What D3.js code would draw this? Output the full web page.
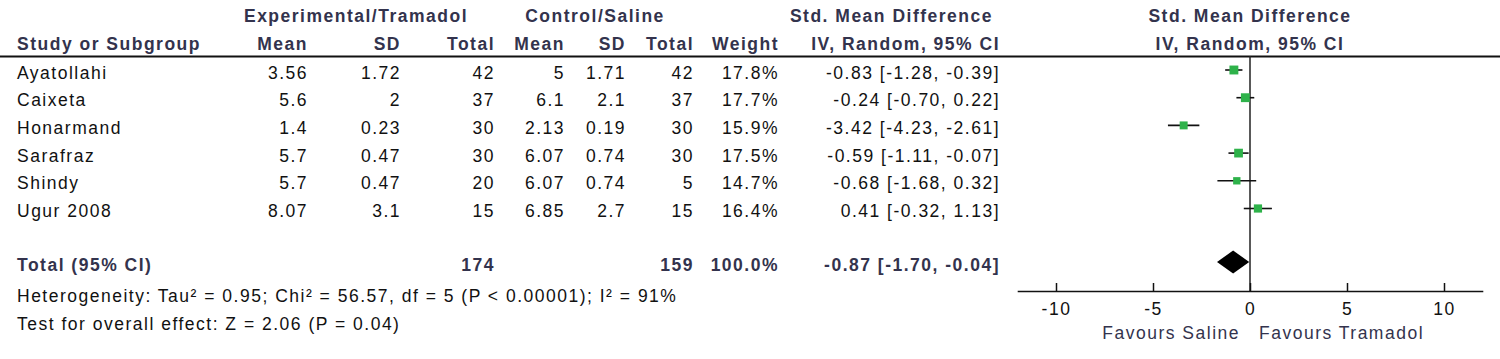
<!DOCTYPE html>
<html>
<head>
<meta charset="utf-8">
<script src="https://cdn.jsdelivr.net/npm/d3@7"></script>
<style>
  body { margin: 0; background: #fff; }
  svg text { font-family: "Liberation Sans", Arial, sans-serif; font-size: 17.5px; letter-spacing: 1.5px; }
  .hdr { font-weight: bold; fill: #33334d; }
  .tot { font-weight: bold; fill: #33334d; }
  .txt { fill: #111; }
</style>
</head>
<body>
<div id="chart"></div>
<script>
const studies = ["Ayatollahi", "Caixeta", "Honarmand", "Sarafraz", "Shindy", "Ugur 2008"];
const expMean = [3.56, 5.6, 1.4, 5.7, 5.7, 8.07];
const expSD = [1.72, 2, 0.23, 0.47, 0.47, 3.1];
const expTotal = [42, 37, 30, 30, 20, 15];
const ctrlMean = [5, 6.1, 2.13, 6.07, 6.07, 6.85];
const ctrlSD = [1.71, 2.1, 0.19, 0.74, 0.74, 2.7];
const ctrlTotal = [42, 37, 30, 30, 5, 15];
const weight = [17.8, 17.7, 15.9, 17.5, 14.7, 16.4];
const smd = [-0.83, -0.24, -3.42, -0.59, -0.68, 0.41];
const ciLow = [-1.28, -0.70, -4.23, -1.11, -1.68, -0.32];
const ciHigh = [-0.39, 0.22, -2.61, -0.07, 0.32, 1.13];

const totalExp = 174;
const totalCtrl = 159;
const totalWeight = 100.0;
const totalSmd = -0.87;
const totalLow = -1.70;
const totalHigh = -0.04;

const axisTicks = [-10, -5, 0, 5, 10];
const heterogeneity = "Heterogeneity: Tau\u00B2 = 0.95; Chi\u00B2 = 56.57, df = 5 (P < 0.00001); I\u00B2 = 91%";
const overall = "Test for overall effect: Z = 2.06 (P = 0.04)";

const width = 1500, height = 359;

const svg = d3.select("#chart").append("svg")
  .attr("width", width)
  .attr("height", height);

svg.append("rect").attr("width", width).attr("height", height).attr("fill", "#fff");

let f2 = v => v.toFixed(2);
let ciText = (m, l, h) => `${f2(m)} [${f2(l)}, ${f2(h)}]`;

// column right edges
const cols = {
  expMean: 308, expSD: 401, expTotal: 495,
  ctrlMean: 565, ctrlSD: 626, ctrlTotal: 694,
  weight: 779, ci: 1000
};

const rows = studies.map((s, i) => ({
  study: s,
  expMean: expMean[i], expSD: expSD[i], expTotal: expTotal[i],
  ctrlMean: ctrlMean[i], ctrlSD: ctrlSD[i], ctrlTotal: ctrlTotal[i],
  weight: weight[i], smd: smd[i], lo: ciLow[i], hi: ciHigh[i]
}));

// baseline of each study row
const y = d3.scalePoint()
  .domain(studies)
  .range([78.5, 217]);

// headers
const header = svg.append("g").attr("class", "hdr");
header.append("text").attr("x", 356).attr("y", 22).attr("text-anchor", "middle").text("Experimental/Tramadol");
header.append("text").attr("x", 595).attr("y", 22).attr("text-anchor", "middle").text("Control/Saline");
header.append("text").attr("x", 993).attr("y", 22).attr("text-anchor", "end").text("Std. Mean Difference");
header.append("text").attr("x", 1250).attr("y", 22).attr("text-anchor", "middle").text("Std. Mean Difference");

header.append("text").attr("x", 17).attr("y", 50).text("Study or Subgroup");
[["expMean", "Mean"], ["expSD", "SD"], ["expTotal", "Total"],
 ["ctrlMean", "Mean"], ["ctrlSD", "SD"], ["ctrlTotal", "Total"],
 ["weight", "Weight"], ["ci", "IV, Random, 95% CI"]].forEach(([k, t]) => {
  header.append("text").attr("x", cols[k]).attr("y", 50).attr("text-anchor", "end").text(t);
});
header.append("text").attr("x", 1250).attr("y", 50).attr("text-anchor", "middle").text("IV, Random, 95% CI");

svg.append("line")
  .attr("x1", 0).attr("x2", width)
  .attr("y1", 56.5).attr("y2", 56.5)
  .attr("stroke", "#111").attr("stroke-width", 2);

// study rows
const body = svg.append("g").attr("class", "txt");
const rowG = body.selectAll("g.row")
  .data(rows)
  .join("g")
  .attr("class", "row")
  .attr("transform", d => `translate(0, ${y(d.study)})`);

rowG.append("text").attr("x", 17).text(d => d.study);
["expMean", "expSD", "expTotal", "ctrlMean", "ctrlSD", "ctrlTotal"].forEach(k => {
  rowG.append("text").attr("x", cols[k]).attr("text-anchor", "end").text(d => String(d[k]));
});
rowG.append("text").attr("x", cols.weight).attr("text-anchor", "end").text(d => d.weight.toFixed(1) + "%");
rowG.append("text").attr("x", cols.ci).attr("text-anchor", "end").text(d => ciText(d.smd, d.lo, d.hi));

// total row
const totY = 270.5;
const tot = svg.append("g").attr("class", "tot");
tot.append("text").attr("x", 17).attr("y", totY).text("Total (95% CI)");
tot.append("text").attr("x", cols.expTotal).attr("y", totY).attr("text-anchor", "end").text(totalExp);
tot.append("text").attr("x", cols.ctrlTotal).attr("y", totY).attr("text-anchor", "end").text(totalCtrl);
tot.append("text").attr("x", cols.weight).attr("y", totY).attr("text-anchor", "end").text(totalWeight.toFixed(1) + "%");
tot.append("text").attr("x", cols.ci).attr("y", totY).attr("text-anchor", "end").text(ciText(totalSmd, totalLow, totalHigh));

body.append("text").attr("x", 17).attr("y", 301.5).text(heterogeneity);
body.append("text").attr("x", 17).attr("y", 330).text(overall);

// forest plot
const x = d3.scaleLinear()
  .domain([-12, 12])
  .range([1017.2, 1482.8]);

const axisY = 291;

svg.append("line")
  .attr("x1", x(0)).attr("x2", x(0))
  .attr("y1", 56).attr("y2", axisY)
  .attr("stroke", "#222").attr("stroke-width", 1.5);

const plot = svg.append("g");
plot.selectAll("line.ci")
  .data(rows)
  .join("line")
  .attr("class", "ci")
  .attr("x1", d => x(d.lo)).attr("x2", d => x(d.hi))
  .attr("y1", d => y(d.study) - 8.5).attr("y2", d => y(d.study) - 8.5)
  .attr("stroke", "#111").attr("stroke-width", 1.6);

const size = d3.scaleLinear().domain([0, 20]).range([0, 10]);
plot.selectAll("rect.sq")
  .data(rows)
  .join("rect")
  .attr("class", "sq")
  .attr("x", d => x(d.smd) - size(d.weight) / 2)
  .attr("y", d => y(d.study) - 8.5 - size(d.weight) / 2)
  .attr("width", d => size(d.weight))
  .attr("height", d => size(d.weight))
  .attr("fill", "#2eb24a");

const dy = 262;
plot.append("path")
  .attr("d", `M${x(totalLow)},${dy} L${x(totalSmd)},${dy - 11.5} L${x(totalHigh)},${dy} L${x(totalSmd)},${dy + 11.5} Z`)
  .attr("fill", "#000");

const axis = svg.append("g")
  .attr("transform", `translate(0, ${axisY})`)
  .call(d3.axisBottom(x)
    .tickValues(axisTicks)
    .tickSize(-8)
    .tickPadding(12)
    .tickSizeOuter(0)
    .tickFormat(d => String(d)));

axis.select(".domain").attr("stroke", "#111").attr("stroke-width", 1.5);
axis.selectAll(".tick line").attr("stroke", "#111").attr("stroke-width", 1.5);
axis.selectAll(".tick text")
  .attr("fill", "#111")
  .style("font-size", "17.5px")
  .attr("font-family", null);

const fav = svg.append("g").attr("class", "hdr").style("font-weight", "normal");
fav.append("text").attr("x", 1240).attr("y", 339).attr("text-anchor", "end").text("Favours Saline");
fav.append("text").attr("x", 1259).attr("y", 339).text("Favours Tramadol");
</script>
</body>
</html>
